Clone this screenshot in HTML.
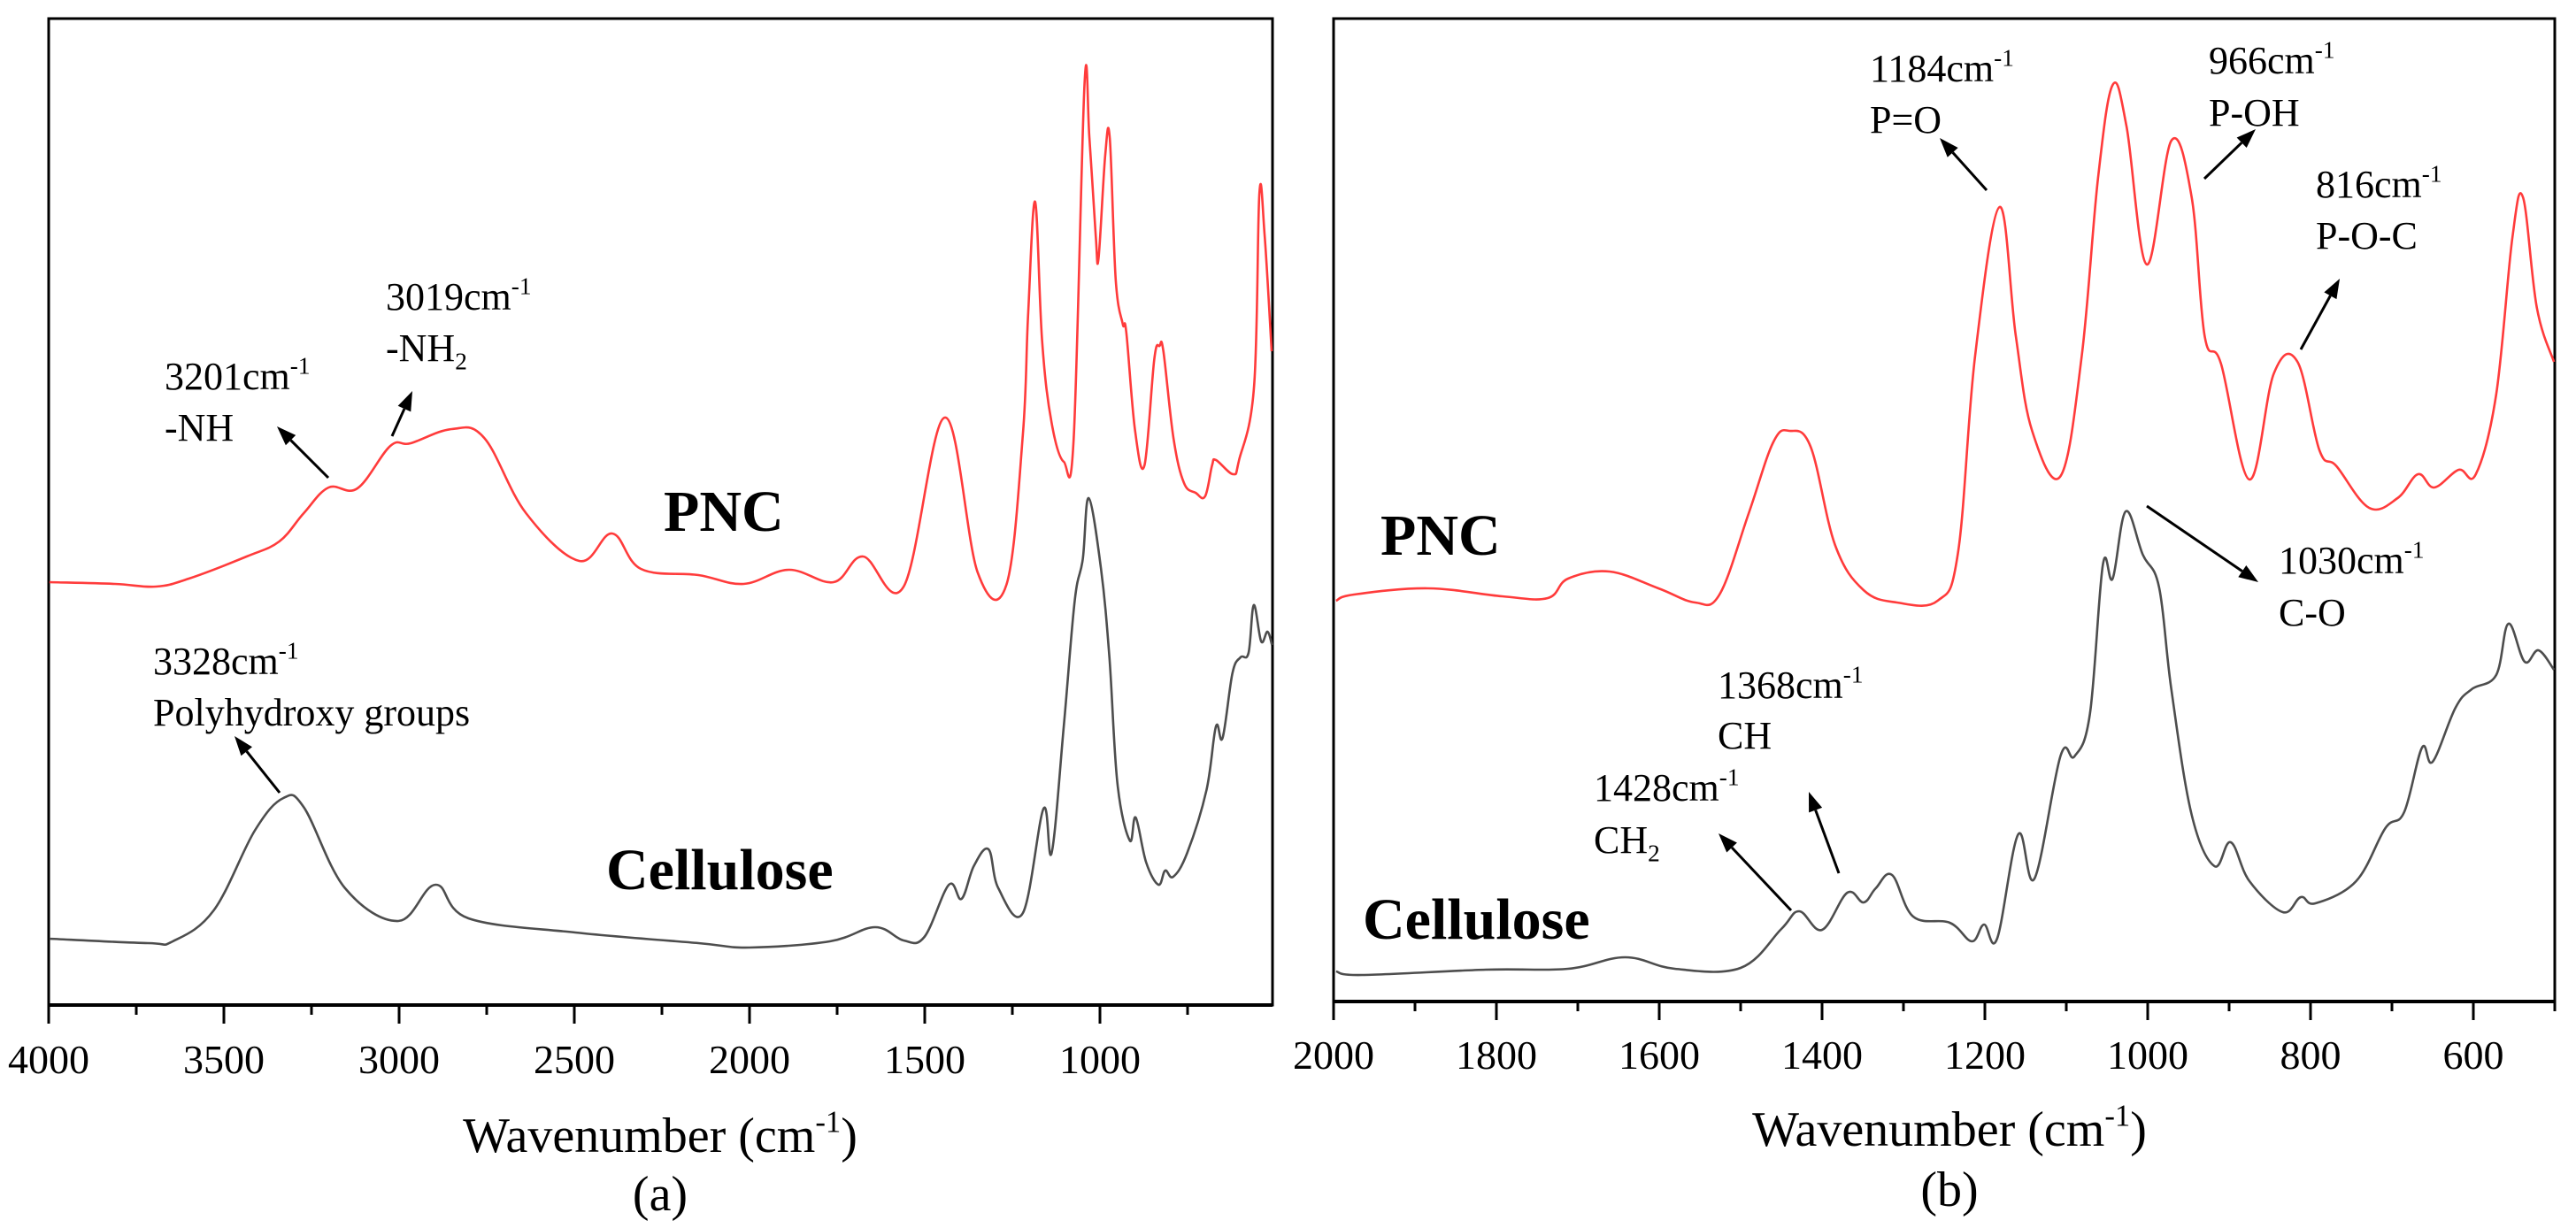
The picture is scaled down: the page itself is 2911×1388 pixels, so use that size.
<!DOCTYPE html>
<html><head><meta charset="utf-8">
<style>
html,body{margin:0;padding:0;background:#fff;}
svg{display:block;}
text{font-family:"Liberation Serif",serif;fill:#000;}
</style></head>
<body>
<svg id="chart" width="2911" height="1388" viewBox="0 0 2911 1388" xmlns="http://www.w3.org/2000/svg">
<rect width="2911" height="1388" fill="#fff"/>
<g id="panelA"></g>
<g id="panelB"></g>
</svg>
<script>
// Panel (a) data: [wavenumber, height above axis]
const pncA_w = [3998,3811,3694,3600,3435,3342,3272,3201,3119,3025,2967,2850,2757,2638,2486,2392,2310,2146,2017,1888,1760,1676,1560,1443,1349,1267,1220,1205,1185,1165,1138,1103,1075,1044,1030,1012,1004,985,972,955,935,925,900,873,845,830,819,790,760,727,700,680,669,620,603,560,545,530,510];
const pncA_v = [478,476,473,482,507,524,556,585,584,632,635,651,641,556,502,533,493,486,476,492,478,507,473,664,489,475,645,780,908,750,658,614,640,1042,980,870,844,960,980,820,770,761,650,610,730,745,739,640,590,579,575,610,616,600,616,700,918,870,739];
const celA_w = [3998,3717,3646,3529,3412,3330,3271,3154,3002,2896,2802,2497,2146,2000,1771,1642,1560,1501,1431,1395,1360,1318,1290,1220,1161,1138,1103,1072,1049,1032,997,973,950,915,898,868,833,814,791,751,696,669,650,622,599,576,561,540,522,509];
const celA_v = [75,70,72,107,197,234,223,132,95,136,98,82,70,65,72,88,73,77,136,120,157,176,132,104,222,172,316,457,504,573,493,393,250,186,212,161,136,152,145,172,243,315,302,375,393,398,452,411,422,407];
const ticksA = [4000,3500,3000,2500,2000,1500,1000];
const minorA = [3750,3250,2750,2250,1750,1250,750];
// Panel (b) data
const pncB_w = [1997,1975,1884,1793,1737,1712,1661,1601,1556,1526,1490,1460,1440,1414,1384,1349,1308,1258,1233,1212,1182,1162,1142,1107,1081,1061,1043,1026,1001,971,946,930,910,875,845,816,789,768,728,693,668,648,618,597,572,552,539,522,501];
const pncB_v = [453,460,467,458,456,478,486,467,451,460,552,632,645,627,516,465,451,453,507,730,898,752,645,594,730,931,1036,989,833,973,909,752,721,590,710,723,623,605,558,569,596,581,601,596,686,864,909,784,723];
const celB_w = [1997,1965,1813,1712,1642,1581,1500,1450,1428,1400,1369,1349,1334,1314,1288,1243,1216,1201,1185,1159,1139,1107,1090,1071,1055,1043,1027,1006,986,971,946,918,898,875,834,812,794,744,708,685,663,650,622,602,572,557,537,520,501];
const celB_v = [34,30,36,37,50,37,38,82,102,81,123,112,128,143,96,89,68,87,71,189,139,278,277,325,494,478,554,505,468,353,211,153,180,136,101,118,111,136,196,214,287,271,332,353,369,427,384,397,375];
const ticksB = [2000,1800,1600,1400,1200,1000,800,600];
const minorB = [1900,1700,1500,1300,1100,900,700,500];

const NS = "http://www.w3.org/2000/svg";
function xA(w){return 55 + (4000 - w) * 0.396;}
function yA(v){return 1136 - v;}
function xB(w){return 1507 + (2000 - w) * 0.92;}
function yB(v){return 1132 - v;}

function mk(tag, attrs, parent){
  const e = document.createElementNS(NS, tag);
  for (const k in attrs) e.setAttribute(k, attrs[k]);
  parent.appendChild(e);
  return e;
}
function series(parent, ws, vs, fx, fy, color, name){
  const P = [];
  for (let i = 0; i < ws.length; i++) P.push([fx(ws[i]), fy(vs[i])]);
  let d = "M" + P[0][0].toFixed(1) + "," + P[0][1].toFixed(1);
  const t = 0.18;
  for (let i = 0; i < P.length - 1; i++){
    const p0 = P[i > 0 ? i - 1 : i], p1 = P[i], p2 = P[i + 1], p3 = P[i + 2 < P.length ? i + 2 : i + 1];
    const c1x = p1[0] + (p2[0] - p0[0]) * t, c1y = p1[1] + (p2[1] - p0[1]) * t;
    const c2x = p2[0] - (p3[0] - p1[0]) * t, c2y = p2[1] - (p3[1] - p1[1]) * t;
    d += " C" + c1x.toFixed(1) + "," + c1y.toFixed(1) + " " + c2x.toFixed(1) + "," + c2y.toFixed(1) + " " + p2[0].toFixed(1) + "," + p2[1].toFixed(1);
  }
  const p = mk("path", {d: d, fill: "none", stroke: color, "stroke-width": 2.6, "stroke-linejoin": "round"}, parent);
  
  
}
function frame(parent, x0, x1, y0, y1, name){
  const r = mk("rect", {x: x0, y: y0, width: x1 - x0, height: y1 - y0, fill: "none", stroke: "#000", "stroke-width": 3}, parent);
  
  
  const b = mk("line", {x1: x0, x2: x1, y1: y1, y2: y1, stroke: "#000", "stroke-width": 4}, parent);
  
  
}
function ticks(parent, major, minor, fx, yb, lblY){
  major.forEach(function(t){
    const l = mk("line", {x1: fx(t), x2: fx(t), y1: yb, y2: yb + 21, stroke: "#000", "stroke-width": 3}, parent);
    
    
    const tx = mk("text", {x: fx(t), y: lblY, "text-anchor": "middle", "font-size": 46}, parent);
    tx.textContent = String(t);
    
    
  });
  minor.forEach(function(t){
    const l = mk("line", {x1: fx(t), x2: fx(t), y1: yb, y2: yb + 11, stroke: "#000", "stroke-width": 3}, parent);
    
    
  });
}
function label(parent, x, y, main, sup, sub, size, bold, name, anchor){
  const t = mk("text", {x: x, y: y, "font-size": size, "text-anchor": anchor || "start"}, parent);
  if (bold) t.setAttribute("font-weight", "bold");
  
  
  const a = mk("tspan", {}, t); a.textContent = main;
  if (sup){ const s = mk("tspan", {dy: -size*0.4, "font-size": size*0.62}, t); s.textContent = sup;
    if (sub === ")") { const c = mk("tspan", {dy: size*0.4}, t); c.textContent = ")"; } }
  else if (sub){ const s = mk("tspan", {dy: size*0.22, "font-size": size*0.62}, t); s.textContent = sub; }
  return t;
}
function arrow(parent, x1, y1, x2, y2, name){
  const g = mk("g", {}, parent);
  
  
  const dx = x2 - x1, dy = y2 - y1, L = Math.hypot(dx, dy), ux = dx / L, uy = dy / L;
  const hl = 22, hw = 8;
  const bx = x2 - ux * hl, by = y2 - uy * hl;
  mk("line", {x1: x1, y1: y1, x2: bx, y2: by, stroke: "#000", "stroke-width": 3}, g);
  mk("polygon", {points: x2 + "," + y2 + " " + (bx - uy * hw) + "," + (by + ux * hw) + " " + (bx + uy * hw) + "," + (by - ux * hw), fill: "#000"}, g);
}

const A = document.getElementById("panelA");
const B = document.getElementById("panelB");

// Panel A
frame(A, 55, 1438, 21, 1136, "plot-frame-a");
ticks(A, ticksA, minorA, xA, 1136, 1213);
series(A, pncA_w, pncA_v, xA, yA, "#ff3b3b", "pnc-spectrum-a");
series(A, celA_w, celA_v, xA, yA, "#4d4d4d", "cellulose-spectrum-a");
label(A, 746, 1302, "Wavenumber (cm", "-1", ")", 56, false, "x-axis-title-a", "middle");
label(A, 746, 1368, "(a)", null, null, 56, false, "panel-label-a", "middle");
label(A, 186, 440, "3201cm", "-1", null, 44, false, "annotation-3201");
label(A, 186, 498, "-NH", null, null, 44, false, "annotation-nh");
label(A, 436, 350, "3019cm", "-1", null, 44, false, "annotation-3019");
label(A, 436, 408, "-NH", null, "2", 44, false, "annotation-nh2");
label(A, 173, 762, "3328cm", "-1", null, 44, false, "annotation-3328");
label(A, 173, 820, "Polyhydroxy groups", null, null, 44, false, "annotation-polyhydroxy");
label(A, 750, 600, "PNC", null, null, 66, true, "series-label-pnc-a");
label(A, 685, 1005, "Cellulose", null, null, 66, true, "series-label-cellulose-a");
arrow(A, 371, 540, 313, 482, "arrow-3201");
arrow(A, 443, 493, 466, 442, "arrow-3019");
arrow(A, 316, 896, 265, 832, "arrow-3328");

// Panel B
frame(B, 1507, 2887, 21, 1132, "plot-frame-b");
ticks(B, ticksB, minorB, xB, 1132, 1208);
series(B, pncB_w, pncB_v, xB, yB, "#ff3b3b", "pnc-spectrum-b");
series(B, celB_w, celB_v, xB, yB, "#4d4d4d", "cellulose-spectrum-b");
label(B, 2203, 1295, "Wavenumber (cm", "-1", ")", 56, false, "x-axis-title-b", "middle");
label(B, 2203, 1363, "(b)", null, null, 56, false, "panel-label-b", "middle");
label(B, 2113, 92, "1184cm", "-1", null, 44, false, "annotation-1184");
label(B, 2113, 150, "P=O", null, null, 44, false, "annotation-p-o-double");
label(B, 2496, 83, "966cm", "-1", null, 44, false, "annotation-966");
label(B, 2496, 142, "P-OH", null, null, 44, false, "annotation-p-oh");
label(B, 2617, 223, "816cm", "-1", null, 44, false, "annotation-816");
label(B, 2617, 281, "P-O-C", null, null, 44, false, "annotation-p-o-c");
label(B, 2575, 648, "1030cm", "-1", null, 44, false, "annotation-1030");
label(B, 2575, 707, "C-O", null, null, 44, false, "annotation-c-o");
label(B, 1941, 789, "1368cm", "-1", null, 44, false, "annotation-1368");
label(B, 1941, 846, "CH", null, null, 44, false, "annotation-ch");
label(B, 1801, 905, "1428cm", "-1", null, 44, false, "annotation-1428");
label(B, 1801, 964, "CH", null, "2", 44, false, "annotation-ch2");
label(B, 1560, 627, "PNC", null, null, 66, true, "series-label-pnc-b");
label(B, 1540, 1061, "Cellulose", null, null, 66, true, "series-label-cellulose-b");
arrow(B, 2245, 215, 2192, 156, "arrow-1184");
arrow(B, 2491, 202, 2549, 146, "arrow-966");
arrow(B, 2600, 395, 2644, 315, "arrow-816");
arrow(B, 2426, 572, 2552, 658, "arrow-1030");
arrow(B, 2024, 1029, 1942, 942, "arrow-1428");
arrow(B, 2078, 987, 2044, 895, "arrow-1368");
</script>
</body></html>
